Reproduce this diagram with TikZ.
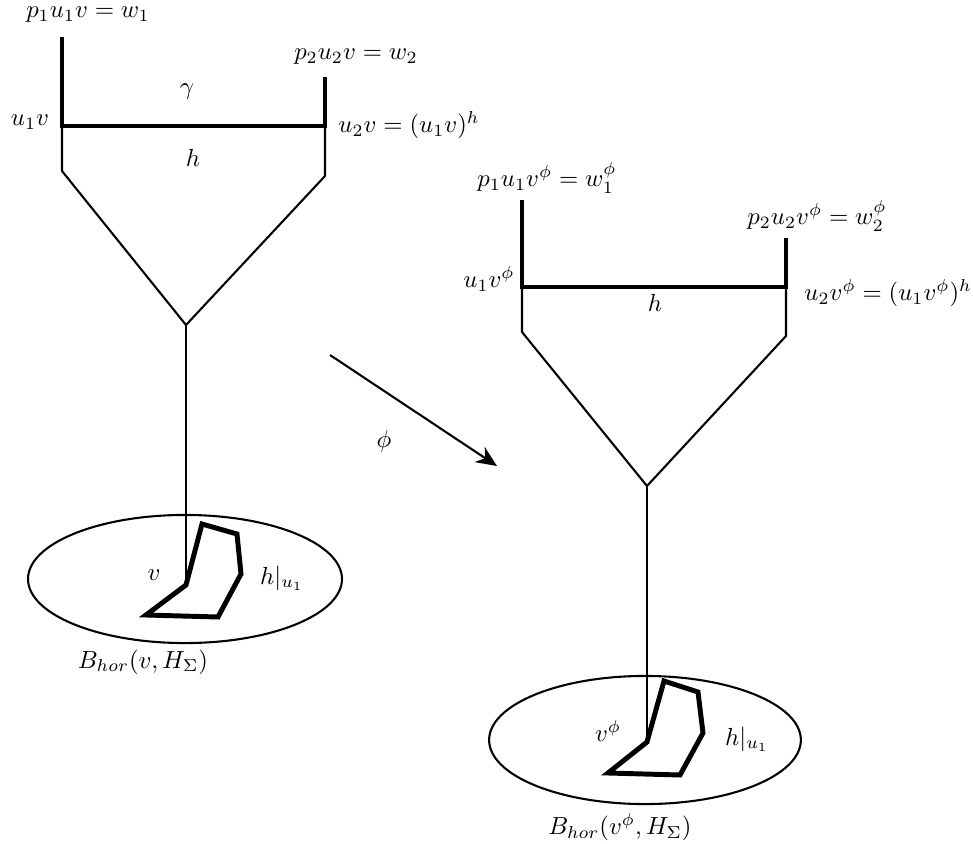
\documentclass[tikz,border=0pt]{standalone}
\usetikzlibrary{arrows.meta}
\tikzset{
  thinline/.style={line width=0.8pt},
  thickline/.style={line width=1.9pt},
  lbl/.style={inner sep=0pt,scale=0.95,transform shape},
}
\begin{document}
\begin{tikzpicture}[x=0.0135cm,y=-0.0135cm]
\useasboundingbox (0,0) rectangle (973,844);
% Left tree
\coordinate (lw1) at (62,37);
\coordinate (lu1) at (62,126);
\coordinate (lw2) at (325,77);
\coordinate (lu2) at (325,126);
\coordinate (ll) at (62,171);
\coordinate (lr) at (325,176);
\coordinate (lroot) at (186,325);
\coordinate (lv) at (186,585);
\draw[thickline] (lw1) -- (lu1) -- (lu2) -- (lw2);
\draw[thinline] (lu1) -- (ll) -- (lroot) -- (lr) -- (lu2);
\draw[thinline] (lroot) -- (lv);
% Left ball
\draw[thinline] (185,579) ellipse (2.12cm and 0.865cm);
\draw[thickline] (lv) -- (202,524) -- (237,534) -- (241,574) -- (218,617) -- (146,615) -- cycle;
% Left labels
\node[lbl] (lw1t) at (88,15) {$p_1u_1v=w_1$};
\node[lbl] (lgam) at (187,92) {$\gamma$};
\node[lbl] (lu1t) at (30,122) {$u_1v$};
\node[lbl] (lht) at (193,158) {$h$};
\node[lbl] (lw2t) at (356,57) {$p_2u_2v=w_2$};
\node[lbl,anchor=west] (lu2t) at (338,125) {$u_2v=(u_1v)^h$};
\node[lbl] (lvt) at (154,575) {$v$};
\node[lbl] (lres) at (282,578) {$h|_{u_1}$};
\node[lbl] (lball) at (143,662) {$B_{hor}(v,H_\Sigma)$};
% Map
\coordinate (phis) at (330,355);
\coordinate (phie) at (497,466);
\draw[thinline,-{Stealth[length=8pt,width=7pt]}] (phis) -- (phie);
\node[lbl] (phil) at (384,441) {$\phi$};
% Right tree
\coordinate (rw1) at (522,200);
\coordinate (ru1) at (522,287);
\coordinate (rw2) at (786,238);
\coordinate (ru2) at (786,287);
\coordinate (rl) at (522,332);
\coordinate (rr) at (786,336);
\coordinate (rroot) at (647,486);
\coordinate (rv) at (647,742);
\draw[thickline] (rw1) -- (ru1) -- (ru2) -- (rw2);
\draw[thinline] (ru1) -- (rl) -- (rroot) -- (rr) -- (ru2);
\draw[thinline] (rroot) -- (rv);
% Right ball
\draw[thinline] (645,740) ellipse (2.105cm and 0.865cm);
\draw[thickline] (rv) -- (664,681) -- (698,692) -- (703,733) -- (680,775) -- (608,773) -- cycle;
% Right labels
\node[lbl] (rw1t) at (547,178) {$p_1u_1v^\phi=w_1^\phi$};
\node[lbl] (rw2t) at (817,216) {$p_2u_2v^\phi=w_2^\phi$};
\node[lbl] (ru1t) at (489,279) {$u_1v^\phi$};
\node[lbl] (rht) at (655,303) {$h$};
\node[lbl,anchor=west] (ru2t) at (804,293) {$u_2v^\phi=(u_1v^\phi)^h$};
\node[lbl] (rvt) at (608,731) {$v^\phi$};
\node[lbl] (rres) at (747,739) {$h|_{u_1}$};
\node[lbl] (rball) at (620,827) {$B_{hor}(v^\phi,H_\Sigma)$};
\end{tikzpicture}
\end{document}
